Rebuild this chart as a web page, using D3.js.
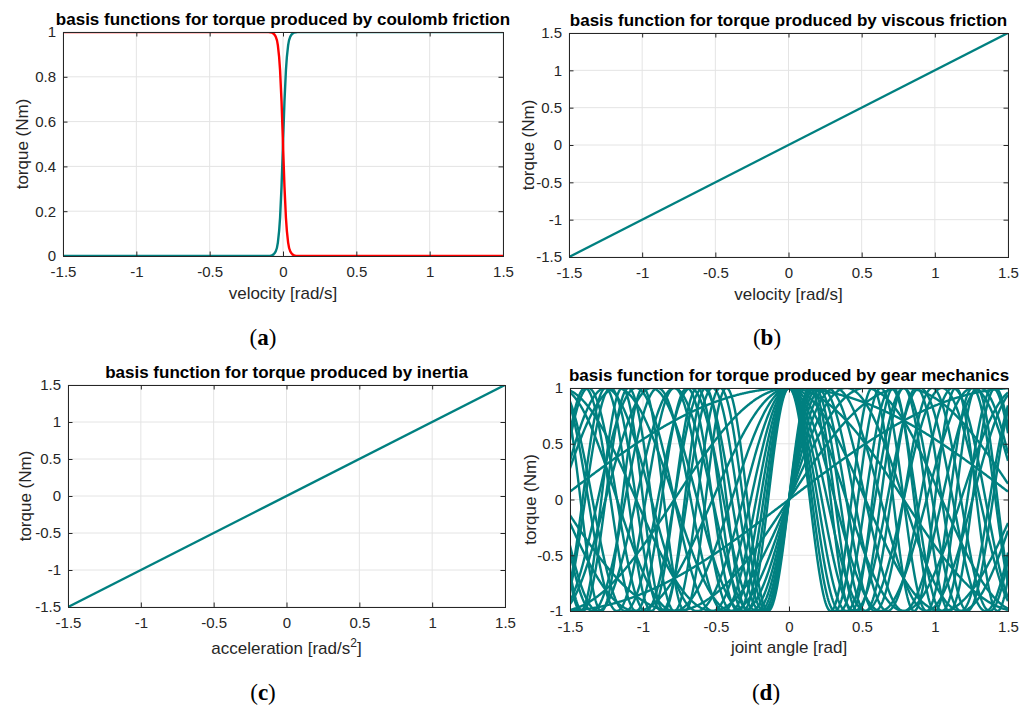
<!DOCTYPE html>
<html><head><meta charset="utf-8">
<script src="https://cdn.jsdelivr.net/npm/d3@7"></script>
<style>body{margin:0;background:#fff}</style>
</head><body>
<svg id="fig" width="1030" height="706"></svg>
<script>
// ---------- data ----------
const velocityTicks = [-1.5, -1, -0.5, 0, 0.5, 1, 1.5];
const torqueTicks = [-1.5, -1, -0.5, 0, 0.5, 1, 1.5];
const coulombTicks = [0, 0.2, 0.4, 0.6, 0.8, 1];
const gearTicks = [-1, -0.5, 0, 0.5, 1];

// coulomb friction basis functions
const coulombVelocity = [-1.5, -0.1, -0.075, -0.05, -0.035, -0.02, -0.01, 0, 0.01, 0.02, 0.035, 0.05, 0.075, 0.1, 1.5];
const coulombPositive = [0, 0, 0.003, 0.02, 0.06, 0.17, 0.31, 0.5, 0.69, 0.83, 0.94, 0.98, 0.997, 1, 1];
const coulombNegative = [1, 1, 0.997, 0.98, 0.94, 0.83, 0.69, 0.5, 0.31, 0.17, 0.06, 0.02, 0.003, 0, 0];

// viscous friction basis function
const viscousVelocity = [-1.5, 1.5];
const viscousTorque = [-1.5, 1.5];

// inertia basis function
const inertiaAcceleration = [-1.5, 1.5];
const inertiaTorque = [-1.5, 1.5];

// gear mechanics basis functions: sine and cosine harmonics of these orders
const gearOrders = [1, 2, 3, 4, 5, 6, 7, 8, 9, 10, 11];

const titles = [
  "basis functions for torque produced by coulomb friction",
  "basis function for torque produced by viscous friction",
  "basis function for torque produced by inertia",
  "basis function for torque produced by gear mechanics"
];
const xLabels = ["velocity [rad/s]", "velocity [rad/s]", "acceleration [rad/s", "joint angle [rad]"];
const yLabel = "torque (Nm)";
const panelLetters = ["a", "b", "c", "d"];

// ---------- drawing ----------
const svg = d3.select('#fig');
const AX = '#262626', GRID = '#e4e4e4', TEAL = '#008080', RED = '#ff0000';
const SANS = "'Liberation Sans', Arial, Helvetica, sans-serif";
const fmt = v => String(v);

// sampling grid for the harmonic curves
const jointAngle = d3.range(0, 601).map(i => -1.5 + i * 0.005);
const gearSeries = [];
gearOrders.forEach(n => {
  gearSeries.push({x: jointAngle, y: jointAngle.map(a => Math.sin(n * a)), color: TEAL});
  gearSeries.push({x: jointAngle, y: jointAngle.map(a => Math.cos(n * a)), color: TEAL});
});

function panel(p) {
  const g = svg.append('g');
  const x = d3.scaleLinear().domain(p.xDomain).range([p.left, p.right]);
  const y = d3.scaleLinear().domain(p.yDomain).range([p.bottom, p.top]);
  const w = p.right - p.left, h = p.bottom - p.top;
  const clipId = 'clip-' + p.key;
  svg.append('clipPath').attr('id', clipId).append('rect')
    .attr('x', p.left).attr('y', p.top).attr('width', w).attr('height', h);

  // grid
  g.append('g').selectAll('line').data(p.xTicks).enter().append('line')
    .attr('x1', d => x(d)).attr('x2', d => x(d)).attr('y1', p.top).attr('y2', p.bottom)
    .attr('stroke', GRID).attr('stroke-width', 1);
  g.append('g').selectAll('line').data(p.yTicks).enter().append('line')
    .attr('y1', d => y(d)).attr('y2', d => y(d)).attr('x1', p.left).attr('x2', p.right)
    .attr('stroke', GRID).attr('stroke-width', 1);

  // data
  const dg = g.append('g').attr('clip-path', `url(#${clipId})`);
  p.series.forEach(s => {
    const pts = s.x.map((v, i) => [v, s.y[i]]);
    dg.append('path').datum(pts)
      .attr('d', d3.line().x(d => x(d[0])).y(d => y(d[1])).curve(s.curve || d3.curveLinear))
      .attr('fill', 'none').attr('stroke', s.color).attr('stroke-width', 2.4)
      .attr('stroke-linejoin', 'round');
  });

  // axes (box with inward ticks)
  const tk = 4.5;
  const styleAxis = sel => {
    sel.select('.domain').attr('stroke', AX).attr('stroke-width', 1);
    sel.selectAll('.tick line').attr('stroke', AX).attr('stroke-width', 1);
    sel.selectAll('.tick text').attr('fill', AX).style('font-family', SANS).style('font-size', '15px');
  };
  g.append('g').attr('transform', `translate(0,${p.bottom})`)
    .call(d3.axisBottom(x).tickValues(p.xTicks).tickFormat(fmt).tickSizeInner(-tk).tickSizeOuter(0).tickPadding(10))
    .call(styleAxis);
  g.append('g').attr('transform', `translate(0,${p.top})`)
    .call(d3.axisTop(x).tickValues(p.xTicks).tickFormat('').tickSizeInner(-tk).tickSizeOuter(0))
    .call(styleAxis);
  g.append('g').attr('transform', `translate(${p.left},0)`)
    .call(d3.axisLeft(y).tickValues(p.yTicks).tickFormat(fmt).tickSizeInner(-tk).tickSizeOuter(0).tickPadding(7))
    .call(styleAxis);
  g.append('g').attr('transform', `translate(${p.right},0)`)
    .call(d3.axisRight(y).tickValues(p.yTicks).tickFormat('').tickSizeInner(-tk).tickSizeOuter(0))
    .call(styleAxis);
  g.selectAll('.domain').attr('stroke-linecap', 'square');

  // title
  g.append('text').attr('x', (p.left + p.right) / 2).attr('y', p.titleY)
    .attr('text-anchor', 'middle').style('font-family', SANS).style('font-size', '17px')
    .style('font-weight', 'bold').attr('fill', '#000').text(p.title);

  // x label
  const xl = g.append('text').attr('x', (p.left + p.right) / 2).attr('y', p.xlabelY)
    .attr('text-anchor', 'middle').style('font-family', SANS).style('font-size', '17px').attr('fill', AX);
  xl.append('tspan').text(p.xlabel);
  if (p.superscript) {
    xl.append('tspan').attr('dy', -7).style('font-size', '12px').text(p.superscript);
    xl.append('tspan').attr('dy', 7).text(']');
  }

  // y label
  g.append('text').attr('transform', `translate(${p.ylabelX},${(p.top + p.bottom) / 2}) rotate(-90)`)
    .attr('text-anchor', 'middle').style('font-family', SANS).style('font-size', '17px')
    .attr('fill', AX).text(yLabel);

  // panel letter
  const lt = svg.append('text').attr('x', p.letterX).attr('y', p.letterY).attr('text-anchor', 'middle')
    .style('font-family', "'Liberation Serif', 'Times New Roman', serif").style('font-size', '23px').attr('fill', '#000');
  lt.append('tspan').text('(');
  lt.append('tspan').style('font-weight', 'bold').text(p.letter);
  lt.append('tspan').text(')');
}

panel({
  key: 'a', left: 63, right: 503, top: 32, bottom: 256,
  xDomain: [-1.5, 1.5], yDomain: [0, 1], xTicks: velocityTicks, yTicks: coulombTicks,
  title: titles[0], titleY: 24.5, xlabel: xLabels[0], xlabelY: 299, ylabelX: 28,
  letter: panelLetters[0], letterX: 263, letterY: 345,
  series: [
    {x: coulombVelocity, y: coulombPositive, color: TEAL, curve: d3.curveMonotoneX},
    {x: coulombVelocity, y: coulombNegative, color: RED, curve: d3.curveMonotoneX}
  ]
});
panel({
  key: 'b', left: 569, right: 1008, top: 33, bottom: 257,
  xDomain: [-1.5, 1.5], yDomain: [-1.5, 1.5], xTicks: velocityTicks, yTicks: torqueTicks,
  title: titles[1], titleY: 25.5, xlabel: xLabels[1], xlabelY: 300, ylabelX: 534,
  letter: panelLetters[1], letterX: 767, letterY: 345,
  series: [{x: viscousVelocity, y: viscousTorque, color: TEAL}]
});
panel({
  key: 'c', left: 68, right: 505, top: 385, bottom: 607,
  xDomain: [-1.5, 1.5], yDomain: [-1.5, 1.5], xTicks: velocityTicks, yTicks: torqueTicks,
  title: titles[2], titleY: 377.5, xlabel: xLabels[2], superscript: '2', xlabelY: 654, ylabelX: 31,
  letter: panelLetters[2], letterX: 263, letterY: 700,
  series: [{x: inertiaAcceleration, y: inertiaTorque, color: TEAL}]
});
panel({
  key: 'd', left: 570, right: 1008, top: 388, bottom: 611,
  xDomain: [-1.5, 1.5], yDomain: [-1, 1], xTicks: velocityTicks, yTicks: gearTicks,
  title: titles[3], titleY: 380.5, xlabel: xLabels[3], xlabelY: 653, ylabelX: 536,
  letter: panelLetters[3], letterX: 766, letterY: 700,
  series: gearSeries
});
</script>
</body></html>
